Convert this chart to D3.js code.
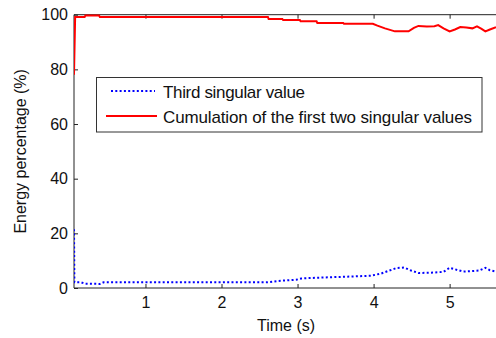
<!DOCTYPE html>
<html><head><meta charset="utf-8">
<script src="https://cdn.jsdelivr.net/npm/d3@7"></script>
<style>
html,body{margin:0;padding:0;background:#fff;}
svg{display:block;font-family:"Liberation Sans",Arial,sans-serif;}
</style></head>
<body>
<div id="chart"></div>
<script>
// Data
const redTime = [0.06,0.075,0.20,0.21,0.39,0.40,2.61,2.62,2.80,2.81,3.03,3.04,3.25,3.26,3.60,3.61,3.99,4.05,4.15,4.28,4.46,4.53,4.59,4.70,4.80,4.85,4.92,5.00,5.07,5.14,5.22,5.30,5.36,5.42,5.47,5.53,5.61];
const redValues = [78,99.2,99.2,99.7,99.7,99.2,99.2,98.4,98.4,98.1,98.1,97.6,97.6,97.0,97.0,96.7,96.7,96.0,95.0,93.9,93.9,95.2,95.9,95.7,95.8,96.2,95.0,93.9,94.6,95.5,95.3,95.0,95.7,94.8,93.9,94.6,95.4];
const blueTime = [0.06,0.065,0.15,0.20,0.40,0.45,2.60,2.75,2.98,3.05,3.20,3.60,3.97,4.10,4.20,4.30,4.40,4.50,4.59,4.75,4.92,5.00,5.10,5.18,5.30,5.39,5.47,5.53,5.61];
const blueValues = [21.5,2.1,2.1,1.6,1.5,2.1,2.1,2.6,3.0,3.5,3.7,4.1,4.5,5.3,6.3,7.3,7.5,6.3,5.5,5.6,5.9,7.4,6.6,6.0,6.2,6.4,7.4,6.5,6.0];
const xTicks = [1,2,3,4,5];
const yTicks = [0,20,40,60,80,100];
const seriesNames = ["Third singular value","Cumulation of the first two singular values"];
const xLabel = "Time (s)";
const yLabel = "Energy percentage (%)";

const W = 496, H = 338;
const L = 74, R = 496, T = 14.7, B = 288;
const svg = d3.select("#chart").append("svg").attr("width", W).attr("height", H);

const x = d3.scaleLinear().domain([0.06, 5.61]).range([L, R]);
const y = d3.scaleLinear().domain([0, 100]).range([B, T]);

svg.append("defs").append("clipPath").attr("id","clip")
  .append("rect").attr("x", L).attr("y", T - 3).attr("width", R - L).attr("height", B - T + 3);

// Axes
const gx = svg.append("g").attr("transform", `translate(0,${B})`)
  .call(d3.axisBottom(x).tickValues(xTicks).tickSize(-4).tickPadding(9).tickFormat(d3.format("d")));
const gxt = svg.append("g").attr("transform", `translate(0,${T})`)
  .call(d3.axisTop(x).tickValues(xTicks).tickSize(-4).tickFormat(""));
const gy = svg.append("g").attr("transform", `translate(${L},0)`)
  .call(d3.axisLeft(y).tickValues(yTicks).tickSize(-4).tickPadding(6));
[gx, gxt, gy].forEach(g => {
  g.select(".domain").attr("stroke", "#222").attr("stroke-width", 1);
  g.selectAll(".tick line").attr("stroke", "#222");
  g.selectAll(".tick text").attr("font-size", 16).attr("fill", "#111").attr("font-family", "Liberation Sans, Arial, sans-serif");
});
gx.select(".domain").attr("d", `M${L},0H${R}`);
gxt.select(".domain").attr("d", `M${L},0H${R}`);
gy.select(".domain").attr("d", `M0,${B}V${T}`);

// Lines
const red = redTime.map((t, i) => [t, redValues[i]]);
const blue = blueTime.map((t, i) => [t, blueValues[i]]);
const line = d3.line().x(d => x(d[0])).y(d => y(d[1]));
const plot = svg.append("g").attr("clip-path", "url(#clip)");
plot.append("path").datum(blue).attr("d", line).attr("fill", "none")
  .attr("stroke", "#0000ff").attr("stroke-width", 2).attr("stroke-dasharray", "2,2.3");
plot.append("path").datum(red).attr("d", line).attr("fill", "none")
  .attr("stroke", "#ff0000").attr("stroke-width", 2).attr("stroke-linejoin", "miter");

// Axis labels
svg.append("text").attr("x", 286).attr("y", 331).attr("text-anchor", "middle")
  .attr("font-size", 16).attr("fill", "#111").text(xLabel);
svg.append("text").attr("transform", `translate(26,${(T + B) / 2}) rotate(-90)`)
  .attr("text-anchor", "middle").attr("font-size", 16).attr("fill", "#111").text(yLabel);

// Legend
const lg = svg.append("g");
lg.append("rect").attr("x", 96.5).attr("y", 77.5).attr("width", 385.5).attr("height", 54.5)
  .attr("fill", "#fff").attr("stroke", "#333").attr("stroke-width", 1);
const rows = [
  {name: seriesNames[0], color: "#0000ff", dash: "2,2.3", y: 91, x1: 111, x2: 155, len: 142},
  {name: seriesNames[1], color: "#ff0000", dash: null, y: 116, x1: 106, x2: 157, len: 309}
];
rows.forEach(r => {
  lg.append("line").attr("x1", r.x1).attr("x2", r.x2).attr("y1", r.y).attr("y2", r.y)
    .attr("stroke", r.color).attr("stroke-width", 2).attr("stroke-dasharray", r.dash);
  lg.append("text").attr("x", 163).attr("y", r.y + 6.5).attr("font-size", 17).attr("fill", "#111")
    .attr("textLength", r.len).attr("lengthAdjust", "spacing").text(r.name);
});
</script>
</body></html>
